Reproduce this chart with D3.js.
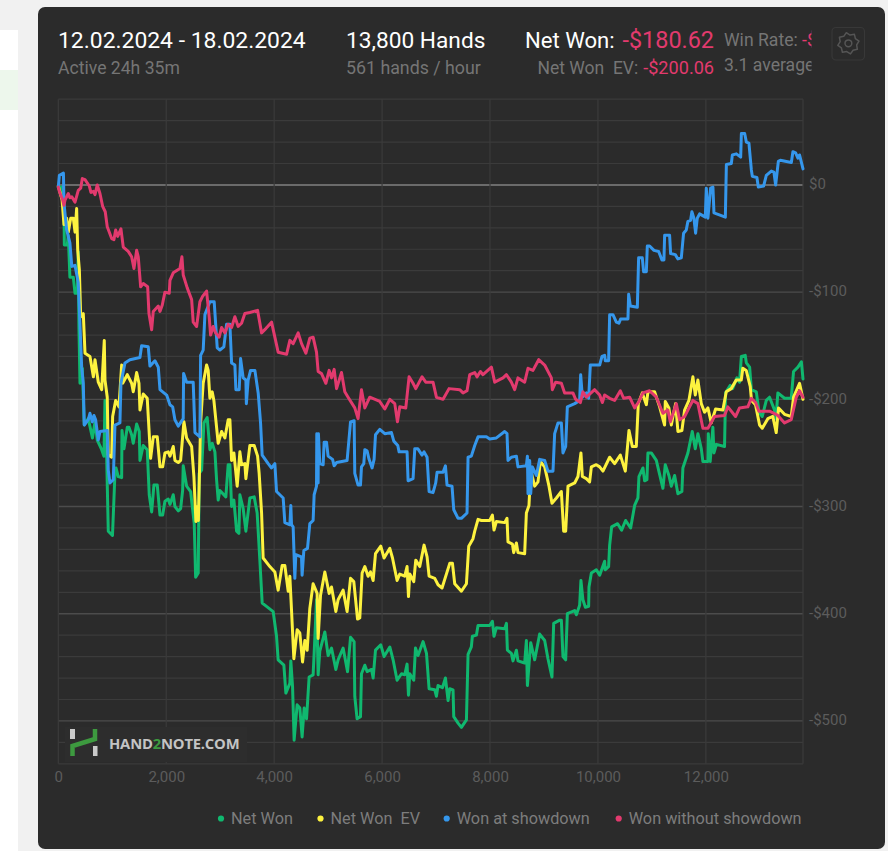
<!DOCTYPE html>
<html>
<head>
<meta charset="utf-8">
<script src="https://cdn.jsdelivr.net/npm/d3@7"></script>
<style>
  html, body { margin: 0; padding: 0; background: #f1f1f1; overflow: hidden; }
  svg { display: block; font-family: Roboto, sans-serif; }
  .axis path, .axis line { display: none; }
  .axis text { fill: #5c5c5c; font-family: Roboto, sans-serif; font-size: 15px; }
  .series { fill: none; stroke-width: 3; stroke-linejoin: round; stroke-linecap: round; }
</style>
</head>
<body>
<svg id="chart" width="888" height="851"></svg>
<script>
// [hands, dollars]
var netWon = [[0,-2],[65,-2],[105,-20],[112,-56],[167,-56],[185,-47],[215,-86],[278,-86],[310,-101],[352,-101],[370,-62],[383,-134],[402,-185],[445,-171],[481,-224],[555,-218],[633,-236],[680,-221],[722,-238],[804,-247],[846,-253],[865,-201],[896,-253],[926,-323],[1004,-327],[1050,-269],[1069,-264],[1111,-272],[1174,-273],[1180,-229],[1217,-246],[1278,-226],[1309,-226],[1359,-233],[1389,-241],[1452,-223],[1500,-230],[1513,-257],[1574,-243],[1648,-247],[1685,-289],[1730,-305],[1772,-280],[1834,-280],[1884,-308],[1934,-308],[1976,-295],[2037,-293],[2069,-298],[2130,-289],[2161,-300],[2223,-304],[2267,-302],[2304,-285],[2315,-262],[2378,-281],[2452,-286],[2519,-316],[2545,-366],[2593,-362],[2611,-269],[2656,-266],[2698,-222],[2759,-217],[2809,-247],[2852,-241],[2902,-249],[2933,-275],[2963,-294],[2994,-285],[3105,-291],[3148,-261],[3180,-261],[3211,-300],[3254,-294],[3304,-323],[3347,-325],[3365,-289],[3426,-302],[3476,-323],[3550,-292],[3630,-291],[3685,-306],[3735,-350],[3778,-390],[3828,-392],[3982,-398],[4044,-421],[4074,-443],[4180,-448],[4217,-474],[4291,-465],[4309,-444],[4341,-468],[4370,-518],[4426,-485],[4476,-488],[4518,-515],[4556,-488],[4600,-498],[4648,-459],[4722,-457],[4741,-437],[4785,-387],[4815,-457],[4846,-435],[4939,-417],[5000,-439],[5063,-432],[5143,-452],[5185,-443],[5278,-432],[5360,-454],[5415,-422],[5482,-426],[5494,-477],[5537,-498],[5600,-496],[5618,-456],[5680,-448],[5722,-454],[5804,-452],[5834,-460],[5878,-434],[5976,-429],[6037,-440],[6143,-431],[6204,-443],[6278,-462],[6360,-456],[6420,-457],[6463,-447],[6489,-476],[6513,-456],[6587,-462],[6619,-432],[6667,-439],[6760,-426],[6823,-437],[6871,-470],[6976,-471],[7007,-477],[7037,-467],[7119,-469],[7174,-460],[7223,-481],[7254,-470],[7315,-471],[7328,-496],[7408,-502],[7470,-506],[7563,-499],[7593,-438],[7654,-431],[7673,-421],[7748,-420],[7778,-411],[7846,-411],[7994,-411],[8044,-407],[8074,-421],[8118,-413],[8272,-414],[8304,-409],[8322,-434],[8396,-437],[8426,-444],[8489,-434],[8518,-444],[8642,-446],[8674,-425],[8693,-467],[8754,-427],[8828,-443],[8920,-419],[9013,-425],[9074,-442],[9148,-459],[9180,-409],[9291,-406],[9322,-406],[9352,-440],[9402,-443],[9433,-400],[9569,-397],[9600,-401],[9661,-392],[9685,-369],[9722,-387],[9767,-394],[9828,-393],[9834,-375],[9878,-362],[9970,-359],[10032,-364],[10124,-351],[10133,-359],[10198,-356],[10217,-336],[10254,-319],[10365,-316],[10439,-322],[10513,-313],[10606,-320],[10680,-299],[10741,-292],[10760,-272],[10834,-264],[10865,-276],[10908,-275],[10926,-250],[10989,-250],[11082,-257],[11143,-270],[11204,-283],[11248,-261],[11315,-271],[11360,-281],[11421,-271],[11482,-288],[11556,-286],[11574,-264],[11667,-250],[11748,-230],[11804,-246],[11852,-232],[11915,-246],[11945,-258],[12038,-258],[12045,-232],[12080,-258],[12130,-226],[12150,-250],[12195,-242],[12346,-244],[12365,-194],[12452,-187],[12495,-190],[12575,-180],[12624,-184],[12658,-160],[12730,-159],[12750,-166],[12811,-170],[12843,-191],[12935,-193],[12985,-212],[13045,-216],[13120,-201],[13180,-198],[13272,-210],[13300,-218],[13334,-194],[13458,-199],[13582,-199],[13625,-174],[13706,-170],[13770,-165],[13800,-181]];

var netWonEv = [[0,-1],[70,-14],[105,-37],[125,-37],[155,-31],[185,-44],[230,-31],[278,-31],[310,-44],[340,-22],[360,-61],[390,-79],[415,-123],[463,-120],[495,-157],[587,-160],[650,-179],[680,-163],[741,-184],[804,-191],[852,-145],[865,-182],[907,-198],[926,-252],[989,-254],[1007,-216],[1063,-201],[1124,-207],[1174,-168],[1193,-185],[1278,-177],[1359,-185],[1389,-193],[1452,-175],[1495,-185],[1513,-210],[1574,-195],[1648,-199],[1711,-255],[1760,-235],[1834,-235],[1884,-263],[1934,-263],[1976,-250],[2037,-249],[2069,-253],[2130,-244],[2161,-257],[2223,-259],[2267,-257],[2328,-221],[2378,-236],[2471,-244],[2513,-272],[2550,-314],[2582,-300],[2596,-313],[2637,-222],[2685,-185],[2748,-168],[2778,-173],[2809,-199],[2852,-193],[2883,-201],[2963,-241],[3026,-230],[3087,-236],[3148,-219],[3180,-219],[3211,-257],[3254,-250],[3315,-281],[3365,-249],[3396,-261],[3457,-260],[3476,-274],[3550,-243],[3630,-243],[3693,-253],[3722,-269],[3767,-306],[3796,-348],[3920,-356],[4013,-361],[4074,-378],[4148,-355],[4198,-355],[4260,-379],[4291,-365],[4322,-397],[4365,-442],[4426,-415],[4476,-418],[4526,-445],[4569,-425],[4612,-434],[4661,-395],[4722,-372],[4796,-381],[4815,-423],[4859,-383],[4939,-361],[5019,-381],[5063,-375],[5143,-398],[5185,-387],[5278,-378],[5352,-398],[5415,-367],[5476,-370],[5545,-405],[5587,-404],[5630,-362],[5680,-356],[5741,-365],[5785,-361],[5834,-369],[5878,-344],[5976,-337],[6037,-348],[6143,-339],[6193,-348],[6278,-369],[6328,-363],[6420,-365],[6463,-356],[6489,-384],[6513,-363],[6587,-370],[6624,-350],[6698,-356],[6778,-336],[6834,-347],[6871,-365],[6976,-367],[7037,-373],[7111,-376],[7254,-353],[7304,-353],[7346,-372],[7470,-379],[7563,-372],[7606,-337],[7685,-330],[7717,-323],[7778,-312],[7841,-313],[7994,-313],[8044,-308],[8074,-322],[8118,-314],[8272,-315],[8315,-311],[8333,-333],[8415,-335],[8439,-343],[8489,-334],[8518,-343],[8642,-344],[8674,-306],[8722,-299],[8754,-266],[8828,-281],[8889,-277],[8933,-258],[9013,-263],[9093,-281],[9148,-297],[9230,-292],[9322,-286],[9365,-323],[9402,-323],[9445,-281],[9569,-278],[9630,-272],[9685,-250],[9711,-272],[9785,-274],[9846,-277],[9878,-263],[9970,-261],[10032,-263],[10093,-267],[10217,-254],[10309,-260],[10415,-252],[10507,-267],[10575,-229],[10637,-244],[10711,-244],[10748,-204],[10822,-194],[10897,-205],[10926,-193],[11050,-193],[11143,-207],[11235,-224],[11248,-202],[11315,-208],[11360,-224],[11390,-216],[11440,-204],[11482,-230],[11556,-229],[11606,-210],[11686,-201],[11760,-179],[11804,-196],[11852,-182],[11915,-204],[11976,-212],[12038,-208],[12100,-222],[12180,-209],[12315,-210],[12378,-193],[12470,-190],[12563,-182],[12656,-182],[12685,-171],[12748,-173],[12822,-188],[12846,-201],[12920,-205],[12995,-224],[13045,-227],[13148,-218],[13241,-216],[13304,-231],[13347,-208],[13458,-214],[13582,-216],[13625,-198],[13736,-185],[13800,-200]];

var wonAtShowdown = [[0,-2],[20,9],[95,11],[105,-17],[155,-42],[215,-54],[250,-76],[310,-75],[370,-91],[400,-128],[433,-170],[463,-185],[481,-224],[555,-219],[587,-213],[630,-221],[661,-215],[692,-219],[741,-238],[772,-230],[907,-229],[926,-266],[957,-278],[1019,-275],[1050,-224],[1142,-222],[1161,-185],[1235,-166],[1328,-163],[1513,-161],[1544,-150],[1667,-151],[1698,-169],[1791,-164],[1853,-170],[1884,-191],[2008,-196],[2069,-205],[2119,-207],[2161,-219],[2223,-225],[2315,-218],[2322,-176],[2378,-184],[2500,-184],[2532,-231],[2624,-235],[2637,-159],[2685,-154],[2717,-121],[2809,-109],[2889,-109],[2945,-152],[2994,-154],[3068,-151],[3118,-130],[3180,-130],[3211,-166],[3272,-168],[3291,-191],[3352,-191],[3378,-162],[3426,-180],[3476,-182],[3485,-204],[3518,-182],[3563,-173],[3643,-173],[3704,-194],[3748,-222],[3778,-252],[3889,-260],[3952,-264],[4013,-260],[4044,-286],[4167,-292],[4198,-315],[4291,-317],[4309,-299],[4322,-317],[4352,-319],[4383,-367],[4402,-345],[4507,-347],[4518,-364],[4550,-341],[4618,-339],[4661,-316],[4722,-313],[4741,-289],[4785,-281],[4790,-232],[4815,-278],[4820,-232],[4846,-260],[4908,-261],[4926,-240],[4970,-240],[5000,-253],[5082,-256],[5112,-262],[5156,-259],[5352,-257],[5415,-221],[5482,-220],[5494,-269],[5555,-280],[5600,-280],[5618,-263],[5661,-260],[5680,-247],[5722,-248],[5759,-256],[5815,-264],[5852,-256],[5878,-233],[5957,-228],[6050,-232],[6174,-231],[6217,-239],[6291,-243],[6315,-249],[6463,-249],[6482,-276],[6574,-274],[6606,-246],[6661,-246],[6741,-252],[6778,-249],[6834,-254],[6871,-286],[6944,-287],[6994,-278],[7019,-268],[7130,-268],[7174,-262],[7204,-280],[7296,-281],[7328,-303],[7408,-311],[7470,-311],[7574,-306],[7593,-254],[7654,-253],[7717,-243],[7778,-235],[7933,-235],[7994,-237],[8118,-236],[8272,-230],[8315,-232],[8333,-257],[8396,-254],[8489,-253],[8518,-263],[8674,-262],[8693,-253],[8704,-288],[8735,-257],[8754,-288],[8785,-263],[8859,-271],[8920,-256],[9013,-257],[9074,-267],[9167,-267],[9198,-232],[9260,-222],[9322,-222],[9352,-250],[9402,-244],[9433,-207],[9569,-204],[9661,-201],[9680,-177],[9711,-198],[9785,-194],[9828,-199],[9859,-168],[10032,-168],[10075,-160],[10124,-159],[10137,-164],[10198,-164],[10217,-121],[10278,-121],[10341,-128],[10389,-129],[10420,-125],[10556,-125],[10569,-102],[10600,-113],[10730,-114],[10754,-68],[10822,-68],[10847,-81],[10897,-81],[10915,-57],[10958,-57],[11038,-61],[11125,-62],[11186,-70],[11223,-70],[11236,-47],[11328,-47],[11347,-64],[11434,-65],[11482,-69],[11545,-68],[11587,-45],[11637,-42],[11667,-34],[11717,-33],[11741,-25],[11778,-31],[11810,-45],[11841,-31],[11884,-27],[11990,-30],[12008,-3],[12038,-31],[12088,-3],[12131,-2],[12150,-26],[12361,-30],[12380,19],[12472,20],[12491,28],[12565,29],[12645,26],[12658,48],[12719,48],[12750,40],[12798,39],[12843,14],[12861,8],[12946,7],[12972,-2],[13070,-1],[13120,9],[13213,13],[13261,12],[13293,0],[13343,22],[13380,23],[13584,21],[13613,31],[13663,30],[13706,25],[13736,28],[13800,15]];

var wonWithoutShowdown = [[0,-2],[20,-6],[80,-14],[105,-19],[125,-14],[185,-8],[215,-12],[250,-11],[310,-16],[370,-5],[415,-3],[445,6],[495,5],[575,-1],[605,-7],[650,-6],[680,-9],[722,0],[772,-8],[822,-20],[870,-25],[907,-39],[989,-50],[1031,-51],[1063,-42],[1100,-48],[1161,-41],[1204,-58],[1296,-62],[1359,-67],[1402,-78],[1452,-61],[1482,-67],[1526,-95],[1574,-92],[1656,-95],[1680,-120],[1730,-135],[1760,-118],[1853,-113],[1884,-118],[1927,-112],[1976,-100],[2056,-101],[2069,-89],[2130,-82],[2254,-78],[2291,-67],[2315,-84],[2389,-96],[2471,-107],[2500,-128],[2563,-132],[2624,-109],[2674,-104],[2748,-99],[2796,-123],[2822,-140],[2870,-132],[2915,-138],[2981,-142],[3026,-133],[3087,-138],[3148,-130],[3211,-133],[3272,-123],[3333,-132],[3396,-129],[3457,-120],[3550,-119],[3693,-117],[3767,-138],[3846,-134],[3952,-128],[4013,-142],[4074,-156],[4230,-158],[4291,-145],[4352,-148],[4445,-138],[4508,-148],[4587,-157],[4661,-143],[4722,-142],[4785,-156],[4815,-174],[4878,-176],[4958,-185],[5019,-173],[5063,-180],[5112,-172],[5156,-190],[5248,-175],[5309,-193],[5370,-198],[5494,-208],[5555,-218],[5618,-191],[5680,-208],[5772,-198],[5957,-202],[6050,-209],[6143,-200],[6235,-204],[6285,-221],[6328,-207],[6439,-208],[6500,-179],[6574,-185],[6624,-190],[6741,-179],[6809,-184],[6944,-184],[7007,-198],[7130,-200],[7241,-190],[7439,-191],[7500,-194],[7574,-192],[7624,-177],[7717,-175],[7759,-179],[7822,-174],[7870,-177],[8026,-170],[8087,-184],[8241,-180],[8304,-177],[8396,-184],[8457,-191],[8518,-180],[8642,-184],[8704,-171],[8796,-173],[8902,-163],[9013,-168],[9137,-180],[9155,-191],[9217,-184],[9322,-185],[9383,-194],[9537,-194],[9587,-200],[9674,-203],[9722,-193],[9785,-198],[9939,-191],[10032,-196],[10082,-203],[10124,-196],[10217,-199],[10309,-201],[10415,-192],[10476,-199],[10587,-198],[10680,-208],[10760,-202],[10834,-194],[10958,-192],[11082,-198],[11204,-213],[11296,-210],[11341,-221],[11452,-204],[11513,-219],[11606,-216],[11760,-201],[11852,-204],[11945,-227],[12038,-227],[12161,-216],[12346,-215],[12407,-207],[12550,-216],[12624,-208],[12778,-207],[12841,-199],[12921,-203],[12982,-211],[13180,-211],[13334,-215],[13458,-222],[13582,-219],[13675,-198],[13736,-192],[13800,-198]];

var seriesNames = ["Net Won", "Net Won  EV", "Won at showdown", "Won without showdown"];
var seriesColors = ["#10b86f", "#fdf23f", "#3597ec", "#e23a6e"];
var seriesValues = [netWon, netWonEv, wonAtShowdown, wonWithoutShowdown];

var xTicks = [0, 2000, 4000, 6000, 8000, 10000, 12000];
var yTicks = [0, -100, -200, -300, -400, -500];
var yMinor = d3.range(-540, 81, 20);

var svg = d3.select("#chart");

// page behind the panel
svg.append("rect").attr("width", 888).attr("height", 851).attr("fill", "#f1f1f1");
svg.append("rect").attr("x", 0).attr("y", 30).attr("width", 18).attr("height", 821).attr("fill", "#fff");
svg.append("rect").attr("x", 0).attr("y", 70).attr("width", 18).attr("height", 40).attr("fill", "#edf7ec");
svg.append("rect").attr("x", 38).attr("y", 7).attr("width", 847).attr("height", 842).attr("rx", 7).attr("fill", "#2b2b2b");

var x = d3.scaleLinear().domain([0, 13800]).range([58.3, 803]);
var y = d3.scaleLinear().domain([80, -540]).range([99.2, 763.8]);

// grid
var grid = svg.append("g");
grid.selectAll(".minor")
    .data(yMinor)
  .enter().append("line")
    .attr("x1", x(0)).attr("x2", x(13800))
    .attr("y1", function(d) { return y(d); })
    .attr("y2", function(d) { return y(d); })
    .attr("stroke", function(d) { return d === 0 ? "#828282" : d % 100 === 0 ? "#4c4c4c" : "#3b3b3b"; })
    .attr("stroke-width", function(d) { return d === 0 ? 1.6 : d % 100 === 0 ? 1.4 : 1.2; });
grid.selectAll(".vert")
    .data(xTicks.concat([13800]))
  .enter().append("line")
    .attr("x1", function(d) { return x(d); })
    .attr("x2", function(d) { return x(d); })
    .attr("y1", y(80)).attr("y2", y(-540))
    .attr("stroke", "#3b3b3b").attr("stroke-width", 1.2);

// logo sits on the grid, under the lines
var logo = svg.append("g");
logo.append("rect").attr("x", 65).attr("y", 727).attr("width", 182).attr("height", 35).attr("fill", "#2d2d2d");
logo.append("rect").attr("x", 70).attr("y", 729).attr("width", 5).attr("height", 10).attr("fill", "#c9c9c9");
logo.append("rect").attr("x", 93).attr("y", 746).attr("width", 4.5).attr("height", 10).attr("fill", "#c9c9c9");
logo.append("path").attr("d", "M72.5 756V746L95 739V729").attr("fill", "none").attr("stroke", "#3d9a3f").attr("stroke-width", 4.5);
var logoText = logo.append("text").attr("x", 109).attr("y", 748.5)
    .attr("fill", "#c4c4c4").attr("font-size", 14.8).attr("font-weight", 700).attr("font-family", "'Open Sans', sans-serif").attr("letter-spacing", -0.2);
logoText.append("tspan").text("HAND");
logoText.append("tspan").attr("fill", "#3d9a3f").text("2");
logoText.append("tspan").text("NOTE.COM");

// axes
svg.append("g")
    .attr("class", "axis")
    .attr("transform", "translate(0,768)")
    .call(d3.axisBottom(x).tickValues(xTicks).tickSize(0).tickPadding(3).tickFormat(d3.format(",")));

svg.append("g")
    .attr("class", "axis")
    .attr("transform", "translate(809,-1)")
    .call(d3.axisRight(y).tickValues(yTicks).tickSize(0).tickPadding(0)
      .tickFormat(function(d) { return d === 0 ? "$0" : "-$" + Math.abs(d); }));

// lines
var line = d3.line()
    .x(function(d) { return x(d[0]); })
    .y(function(d) { return y(d[1]); });

svg.selectAll(".series")
    .data(seriesValues)
  .enter().append("path")
    .attr("class", "series")
    .attr("stroke", function(d, i) { return seriesColors[i]; })
    .attr("d", line);

// legend
var legendX = [221, 320.5, 446.7, 618.7];
var legend = svg.selectAll(".legend")
    .data(seriesNames)
  .enter().append("g")
    .attr("transform", function(d, i) { return "translate(" + legendX[i] + ",818.5)"; });
legend.append("circle").attr("r", 3.1).attr("fill", function(d, i) { return seriesColors[i]; });
legend.append("text")
    .attr("x", 10).attr("y", 5.5)
    .attr("fill", "#7d7d7d").attr("font-size", 16.25)
    .style("white-space", "pre")
    .text(function(d) { return d; });

// header
function label(px, py, size, color, txt, anchor) {
  return svg.append("text").attr("x", px).attr("y", py)
      .attr("font-size", size).attr("fill", color)
      .attr("text-anchor", anchor || "start")
      .style("white-space", "pre")
      .text(txt);
}
label(58, 47.5, 22.9, "#fff", "12.02.2024 - 18.02.2024");
label(58, 73.5, 17.6, "#757575", "Active 24h 35m");
label(346, 47.5, 22.7, "#fff", "13,800 Hands");
label(346, 73.5, 17.8, "#757575", "561 hands / hour");
label(525, 47.5, 22.1, "#fff", "Net Won:");
label(714, 47.5, 23.4, "#e23a6e", "-$180.62", "end");
label(537.5, 73.5, 17.5, "#757575", "Net Won  EV:");
label(714, 73.5, 18.1, "#e23a6e", "-$200.06", "end");

svg.append("clipPath").attr("id", "rate-clip")
  .append("rect").attr("x", 720).attr("y", 20).attr("width", 91.5).attr("height", 60);
var rate = svg.append("g").attr("clip-path", "url(#rate-clip)");
var rateText = rate.append("text").attr("x", 724).attr("y", 46).attr("font-size", 17.6).attr("fill", "#757575");
rateText.append("tspan").style("white-space", "pre").text("Win Rate: ");
rateText.append("tspan").attr("fill", "#e23a6e").text("-$1");
rate.append("text").attr("x", 724).attr("y", 71).attr("font-size", 17.6).attr("fill", "#757575").text("3.1 average");

// settings button
var gear = svg.append("g").attr("transform", "translate(848.4,43.3)");
svg.append("rect").attr("x", 832).attr("y", 27.5).attr("width", 32.5).attr("height", 32.5).attr("rx", 4)
    .attr("fill", "none").attr("stroke", "#383838").attr("stroke-width", 1.2);
var teeth = d3.range(0, 16).map(function(i) {
  var a = i / 16 * 2 * Math.PI - Math.PI / 16;
  var r = (i % 2 === 0) ? 10.8 : 8.4;
  return [r * Math.cos(a), r * Math.sin(a)];
});
gear.append("path")
    .attr("d", d3.line().curve(d3.curveLinearClosed)(teeth))
    .attr("fill", "none").attr("stroke", "#555").attr("stroke-width", 1.5).attr("stroke-linejoin", "round");
gear.append("circle").attr("r", 3.4).attr("fill", "none").attr("stroke", "#555").attr("stroke-width", 1.5);
</script>
</body>
</html>
